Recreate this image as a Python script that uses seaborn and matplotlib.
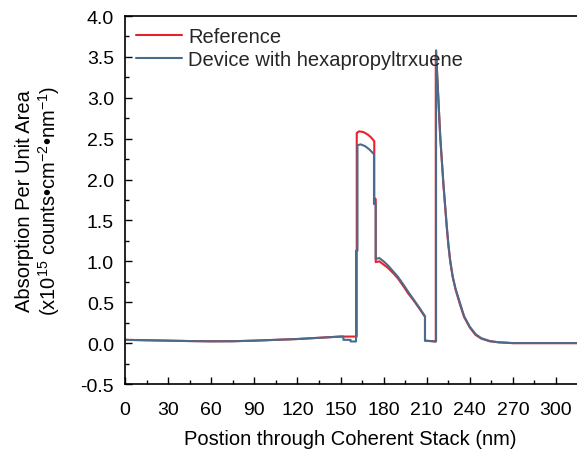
import numpy as np
import pandas as pd
import seaborn as sns
import matplotlib
matplotlib.use("Agg")
import matplotlib.pyplot as plt
from matplotlib.ticker import MultipleLocator, FormatStrFormatter

series_names = ["Reference", "Device with hexapropyltrxuene"]

base_x = [0, 15, 30, 45, 60, 75, 90, 105, 120, 135, 150]
base_y = [0.04, 0.035, 0.03, 0.025, 0.022, 0.023, 0.03, 0.04, 0.05, 0.065, 0.08]

ref_x = base_x + [152, 161.3, 161.3, 163, 166, 169, 171, 173.5, 173.5, 174.5, 174.5, 177, 180, 183, 187, 190,
                  194, 197, 201, 205, 208.8, 208.8, 216.3, 216.3, 217.2, 219.5, 221.8, 224, 225.2, 226.4,
                  228.2, 230, 233, 236, 240, 244, 248, 254, 260, 270, 316]
ref_y = base_y + [0.08, 0.08, 2.57, 2.59, 2.58, 2.55, 2.52, 2.47, 1.78, 1.76, 0.99, 1.0, 0.96, 0.92, 0.85, 0.79,
                  0.69, 0.61, 0.52, 0.42, 0.32, 0.03, 0.02, 3.52, 3.3, 2.5, 1.9, 1.4, 1.18, 0.99,
                  0.8, 0.66, 0.48, 0.32, 0.19, 0.1, 0.055, 0.022, 0.01, 0.0, 0.0]

dev_x = base_x + [152, 152, 157, 157, 160.8, 160.8, 161.8, 161.8, 164, 167, 170, 173.3, 173.3, 174.5, 174.5,
                  177, 180, 183, 187, 190, 194, 197, 201, 205, 208.8, 208.8, 216.5, 216.5, 217, 219.3,
                  221.6, 223.9, 225, 226.2, 228, 230, 233, 236, 240, 244, 248, 254, 260, 270, 316]
dev_y = base_y + [0.08, 0.04, 0.04, 0.02, 0.02, 1.13, 1.13, 2.42, 2.43, 2.41, 2.37, 2.31, 1.70, 1.70, 1.03,
                  1.04, 1.0, 0.95, 0.87, 0.81, 0.71, 0.63, 0.53, 0.43, 0.33, 0.03, 0.02, 3.58, 3.4, 2.55,
                  1.95, 1.45, 1.22, 1.03, 0.82, 0.67, 0.5, 0.33, 0.2, 0.11, 0.06, 0.025, 0.01, 0.0, 0.0]

df = pd.concat([
    pd.DataFrame({"x": ref_x, "y": ref_y, "series": series_names[0]}),
    pd.DataFrame({"x": dev_x, "y": dev_y, "series": series_names[1]}),
], ignore_index=True)

sns.set_theme(style="ticks")
plt.rcParams["font.family"] = ["Liberation Sans", "DejaVu Sans"]
plt.rcParams["mathtext.fontset"] = "custom"
plt.rcParams["mathtext.rm"] = "Liberation Sans"
plt.rcParams["mathtext.it"] = "Liberation Sans"

fig = plt.figure(figsize=(5.77, 4.52), dpi=100)
ax = fig.add_axes([125 / 577, 1 - 385 / 452, 1 - 125 / 577, (385 - 17) / 452])

sns.lineplot(data=df, x="x", y="y", hue="series", estimator=None, sort=False,
             palette={series_names[0]: "#e8222c", series_names[1]: "#4b6b8a"},
             linewidth=1.5, ax=ax)

ax.set_xlim(0, 314.6)
ax.set_ylim(-0.5, 4.0)
ax.xaxis.set_major_locator(MultipleLocator(30))
ax.xaxis.set_minor_locator(MultipleLocator(15))
ax.yaxis.set_major_locator(MultipleLocator(0.5))
ax.yaxis.set_minor_locator(MultipleLocator(0.25))
ax.yaxis.set_major_formatter(FormatStrFormatter("%.1f"))
ax.tick_params(which="major", direction="in", length=5, width=1, labelsize=14, color="black", labelcolor="black")
ax.tick_params(which="minor", direction="in", length=3, width=1, color="black")
ax.tick_params(axis="x", which="major", pad=12)
ax.tick_params(axis="y", which="major", pad=8)
for s in ["left", "bottom", "top"]:
    ax.spines[s].set_color("black")
    ax.spines[s].set_linewidth(1.2)
ax.spines["right"].set_visible(False)

ax.set_xlabel("Postion through Coherent Stack (nm)", fontsize=14.5, color="black")
ax.xaxis.set_label_coords(0.498, -0.122)
ax.set_ylabel("Absorption Per Unit Area\n(x10$^{15}$ counts\u2022cm$^{-2}$\u2022nm$^{-1}$)",
              fontsize=14.5, color="black", linespacing=1.1)
ax.yaxis.set_label_coords(-0.14, 0.5)

leg = ax.legend(loc="upper left", frameon=False, fontsize=14.5, handlelength=2.3,
                borderaxespad=0.15, labelspacing=0.2, handletextpad=0.3)
for line in leg.get_lines():
    line.set_linewidth(1.5)

fig.savefig("out.png", dpi=100)
